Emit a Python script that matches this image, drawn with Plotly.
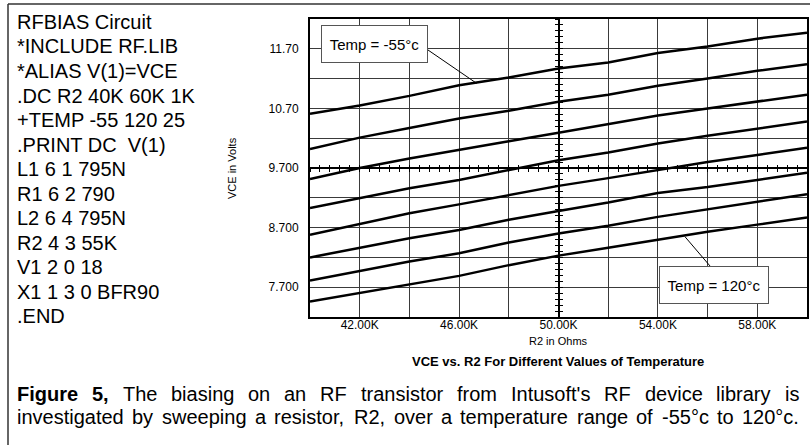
import plotly.graph_objects as go

# ---------------- data ----------------
r2_ohms = [40000, 42000, 44000, 46000, 48000, 50000, 52000, 54000, 56000, 58000, 60000]
temps_c = [-55, -30, -5, 20, 45, 70, 95, 120]
vce_m55 = [10.61, 10.75, 10.91, 11.09, 11.22, 11.37, 11.47, 11.63, 11.74, 11.87, 11.97]
vce_m30 = [10.02, 10.21, 10.37, 10.53, 10.66, 10.81, 10.93, 11.08, 11.20, 11.33, 11.44]
vce_m05 = [9.515, 9.70, 9.86, 10.01, 10.15, 10.29, 10.43, 10.58, 10.70, 10.82, 10.93]
vce_p20 = [9.03, 9.20, 9.36, 9.50, 9.67, 9.83, 9.96, 10.11, 10.24, 10.36, 10.48]
vce_p45 = [8.58, 8.76, 8.94, 9.09, 9.25, 9.40, 9.53, 9.67, 9.80, 9.92, 10.04]
vce_p70 = [8.20, 8.36, 8.52, 8.66, 8.83, 8.98, 9.12, 9.28, 9.38, 9.50, 9.62]
vce_p95 = [7.81, 7.97, 8.13, 8.27, 8.45, 8.60, 8.73, 8.88, 9.01, 9.14, 9.26]
vce_p120 = [7.46, 7.60, 7.75, 7.89, 8.07, 8.23, 8.36, 8.50, 8.63, 8.75, 8.87]
series = [vce_m55, vce_m30, vce_m05, vce_p20, vce_p45, vce_p70, vce_p95, vce_p120]

x_range = [40000, 60000]
y_range = [7.2, 12.2]
x_tickvals = [42000, 44000, 46000, 48000, 50000, 52000, 54000, 56000, 58000]
x_ticktext = ["42.00K", "", "46.00K", "", "50.00K", "", "54.00K", "", "58.00K"]
y_tickvals = [7.7, 8.2, 8.7, 9.2, 9.7, 10.2, 10.7, 11.2, 11.7]
y_ticktext = ["7.700", "", "8.700", "", "9.700", "", "10.70", "", "11.70"]

netlist_lines = ["RFBIAS Circuit", "*INCLUDE RF.LIB", "*ALIAS V(1)=VCE", ".DC R2 40K 60K 1K",
                 "+TEMP -55 120 25", ".PRINT DC  V(1)", "L1 6 1 795N", "R1 6 2 790",
                 "L2 6 4 795N", "R2 4 3 55K", "V1 2 0 18", "X1 1 3 0 BFR90", ".END"]

x_title = "R2 in Ohms"
y_title = "VCE in Volts"
chart_title = "VCE vs. R2 For Different Values of Temperature"
label_cold = "Temp = -55°c"
label_hot = "Temp = 120°c"
caption_line1 = "Figure 5, The biasing on an RF transistor from Intusoft's RF device library is"
caption_line2 = "investigated by sweeping a resistor, R2, over a temperature range of -55°c to 120°c."

# ---------------- layout geometry ----------------
W, H = 810, 445
ML, MR, MT, MB = 310, 3, 19, 128
PW, PH = W - ML - MR, H - MT - MB
FONT = "Liberation Sans, Arial, Helvetica, sans-serif"


def px(x):
    return (x - ML) / PW


def py(y):
    return (H - MB - y) / PH


fig = go.Figure()
for vals in series:
    fig.add_trace(go.Scatter(x=r2_ohms, y=vals, mode="lines",
                             line=dict(color="black", width=2.5),
                             showlegend=False, hoverinfo="skip"))

# dummy traces for crosshair axes
for xa, ya in [("x2", "y"), ("x3", "y"), ("x", "y2"), ("x", "y3")]:
    fig.add_trace(go.Scatter(x=[None], y=[None], xaxis=xa, yaxis=ya,
                             showlegend=False, hoverinfo="skip"))

axis_font = dict(family=FONT, size=12, color="black")
cross_common = dict(anchor="free", position=0.5, showticklabels=False, showgrid=False,
                    zeroline=False, automargin=False, tickwidth=1, tickcolor="black", ticklen=3)
fig.update_layout(
    template="none",
    width=W, height=H,
    margin=dict(l=ML, r=MR, t=MT, b=MB, pad=0, autoexpand=False),
    paper_bgcolor="white", plot_bgcolor="white",
    font=dict(family=FONT, color="black"),
    showlegend=False,
    xaxis=dict(range=x_range, tickvals=x_tickvals, ticktext=x_ticktext,
               showgrid=True, gridcolor="#3a3a3a", gridwidth=1,
               showline=True, mirror=True, linecolor="black", linewidth=2,
               ticks="", ticklabelstandoff=-4,
               tickfont=axis_font, zeroline=False, automargin=False),
    yaxis=dict(range=y_range, tickvals=y_tickvals, ticktext=y_ticktext,
               showgrid=True, gridcolor="#3a3a3a", gridwidth=1,
               showline=True, mirror=True, linecolor="black", linewidth=2,
               ticks="outside", ticklen=7, tickcolor="rgba(0,0,0,0)",
               tickfont=axis_font, zeroline=False, automargin=False),
    xaxis2=dict(overlaying="x", range=x_range, showline=True, linecolor="black", linewidth=1.5,
                ticks="outside", tick0=40000, dtick=400, **cross_common),
    xaxis3=dict(overlaying="x", range=x_range, showline=False,
                ticks="inside", tick0=40000, dtick=400, **cross_common),
    yaxis2=dict(overlaying="y", range=y_range, showline=True, linecolor="black", linewidth=1.5,
                ticks="outside", tick0=7.2, dtick=0.1, **cross_common),
    yaxis3=dict(overlaying="y", range=y_range, showline=False,
                ticks="inside", tick0=7.2, dtick=0.1, **cross_common),
)

anns = []
shapes = []

# outer frame (top and left edges)
shapes.append(dict(type="line", xref="paper", yref="paper", x0=px(8), y0=py(4), x1=px(W + 2), y1=py(4),
                   line=dict(color="#333", width=1.5)))
shapes.append(dict(type="line", xref="paper", yref="paper", x0=px(8), y0=py(4), x1=px(8), y1=py(H + 2),
                   line=dict(color="#333", width=1.5)))

# label boxes with leader lines
box_font = dict(family=FONT, size=15, color="black")
anns.append(dict(xref="x", yref="y", x=42595, y=11.78, text=label_cold, showarrow=False,
                 xanchor="center", yanchor="middle",
                 bgcolor="white", bordercolor="#555", borderwidth=1, borderpad=4,
                 width=97, height=28, font=box_font))
shapes.append(dict(type="line", xref="x", yref="y", x0=44748, y0=11.68, x1=46708, y1=11.12,
                   line=dict(color="black", width=1)))
anns.append(dict(xref="x", yref="y", x=56258, y=7.74, text=label_hot, showarrow=False,
                 xanchor="center", yanchor="middle",
                 bgcolor="white", bordercolor="#555", borderwidth=1, borderpad=4,
                 width=100, height=28, font=box_font))
shapes.append(dict(type="line", xref="x", yref="y", x0=56097, y0=8.056, x1=55090, y1=8.547,
                   line=dict(color="black", width=1)))

# axis titles and chart title
anns.append(dict(xref="paper", yref="paper", x=px(232), y=0.5, text=y_title, textangle=-90,
                 xanchor="center", yanchor="middle",
                 showarrow=False, font=dict(family=FONT, size=11, color="black")))
anns.append(dict(xref="paper", yref="paper", x=px(558), y=py(341), text=x_title,
                 xanchor="center", yanchor="middle",
                 showarrow=False, font=dict(family=FONT, size=11, color="black")))
anns.append(dict(xref="paper", yref="paper", x=px(558), y=py(361), text="<b>" + chart_title + "</b>",
                 xanchor="center", yanchor="middle",
                 showarrow=False, font=dict(family=FONT, size=13, color="black")))

# netlist text
for i, line in enumerate(netlist_lines):
    anns.append(dict(xref="paper", yref="paper", x=px(15), y=py(22 + 24.5 * i),
                     xanchor="left", yanchor="middle",
                     text=line, showarrow=False, font=dict(family=FONT, size=20, color="black")))

# caption, justified word by word using Arial metrics
REG = {'a': 556, 'b': 556, 'c': 500, 'd': 556, 'e': 556, 'f': 278, 'g': 556, 'h': 556, 'i': 222,
       'j': 222, 'k': 500, 'l': 222, 'm': 833, 'n': 556, 'o': 556, 'p': 556, 'q': 556, 'r': 333,
       's': 500, 't': 278, 'u': 556, 'v': 500, 'w': 722, 'x': 500, 'y': 500, 'z': 500,
       'A': 667, 'B': 667, 'C': 722, 'D': 722, 'E': 667, 'F': 611, 'G': 778, 'H': 722, 'I': 278,
       'R': 722, 'S': 667, 'T': 611, 'V': 667, ',': 278, '.': 278, "'": 191, '-': 333, '°': 400}
BOLD = {'F': 611, 'i': 278, 'g': 611, 'u': 611, 'r': 389, 'e': 556, ',': 278}


def text_width(s, size, bold=False):
    tot = 0
    for ch in s:
        if bold:
            tot += BOLD.get(ch, 556)
        else:
            tot += REG.get(ch, 556)
    return tot * size / 1000.0


CAP_SIZE = 20
CAP_X0, CAP_X1 = 15, 797


def justify(line, ycen, bold_words=0):
    words = line.split(" ")
    widths = [text_width(w, CAP_SIZE, i < bold_words) for i, w in enumerate(words)]
    gap = (CAP_X1 - CAP_X0 - sum(widths)) / (len(words) - 1)
    x = CAP_X0
    for i, w in enumerate(words):
        t = "<b>" + w + "</b>" if i < bold_words else w
        anns.append(dict(xref="paper", yref="paper", x=px(x), y=py(ycen),
                         xanchor="left", yanchor="middle",
                         text=t, showarrow=False, font=dict(family=FONT, size=CAP_SIZE, color="black")))
        x += widths[i] + gap


justify(caption_line1, 394, bold_words=2)
justify(caption_line2, 417)

fig.update_layout(annotations=anns, shapes=shapes)
fig.write_html("out.html", config={"displayModeBar": False},
               post_script="document.body.style.margin='0';")
